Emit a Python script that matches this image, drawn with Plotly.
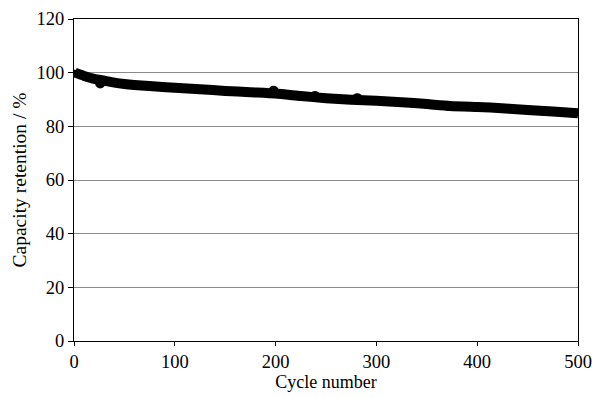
import plotly.graph_objects as go

cycles = [1, 10, 20, 30, 40, 50, 75, 100, 125, 150, 175, 200, 225, 250, 275, 300, 325, 350, 373, 400, 413, 450, 475, 500]
retention = [100.0, 98.8, 97.7, 97.0, 96.3, 95.8, 95.0, 94.4, 93.8, 93.2, 92.7, 92.2, 91.3, 90.5, 89.9, 89.5, 89.0, 88.3, 87.6, 87.2, 87.0, 86.1, 85.5, 84.9]

outlier_cycles = [26, 198, 239, 281]
outlier_retention = [96.0, 93.3, 91.3, 90.5]

x_ticks = [0, 100, 200, 300, 400, 500]
y_ticks = [0, 20, 40, 60, 80, 100, 120]

fam = "Liberation Serif, Times New Roman, serif"
tick_font = dict(family=fam, size=18.5, color="black")
xtitle_font = dict(family=fam, size=18, color="black")
ytitle_font = dict(family=fam, size=19.5, color="black")

fig = go.Figure()
fig.add_trace(go.Scatter(
    x=cycles, y=retention, mode="lines+markers",
    line=dict(color="black", width=10, shape="spline", smoothing=0.6),
    marker=dict(color="black", size=6),
    showlegend=False,
))
fig.add_trace(go.Scatter(
    x=outlier_cycles, y=outlier_retention, mode="markers",
    marker=dict(color="black", size=10),
    showlegend=False,
))

fig.update_layout(
    width=592, height=398,
    margin=dict(l=74, r=14, t=19, b=57, autoexpand=False),
    paper_bgcolor="white", plot_bgcolor="white",
    font=tick_font,
    xaxis=dict(
        range=[0, 500], tickvals=x_ticks, showgrid=False, zeroline=False,
        showline=True, linecolor="black", linewidth=1, mirror=True,
        ticks="outside", ticklen=4, tickcolor="black", automargin=False,
        tickfont=tick_font,
        title=dict(text="Cycle number", standoff=2, font=xtitle_font),
    ),
    yaxis=dict(
        range=[0, 120], tickvals=y_ticks, showgrid=True, gridcolor="#8a8a8a", gridwidth=1,
        zeroline=False, showline=True, linecolor="black", linewidth=1, mirror=True,
        ticks="outside", ticklen=5, tickcolor="black", automargin=False,
        tickfont=tick_font,
        title=dict(text="Capacity retention / %", standoff=4, font=ytitle_font),
    ),
)

fig.write_html("out.html")
